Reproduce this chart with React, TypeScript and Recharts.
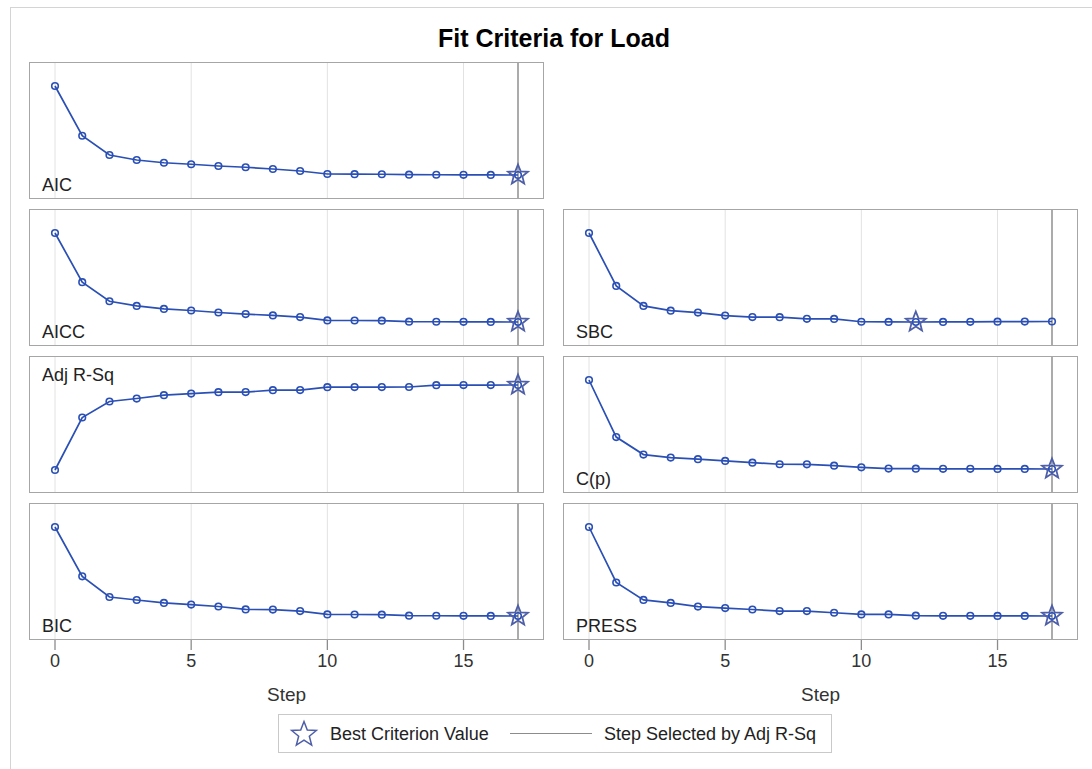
import { ComposedChart, Line, XAxis, YAxis, ReferenceLine, ReferenceDot } from 'recharts';

const steps = [0, 1, 2, 3, 4, 5, 6, 7, 8, 9, 10, 11, 12, 13, 14, 15, 16, 17];
const stepTicks = [0, 5, 10, 15];
const selectedStep = 17;

const aicValues = [756, 557, 480, 460, 449, 443, 436, 431, 424, 416, 404, 403.5, 403, 401.5, 401, 400.6, 400.3, 400];
const aiccValues = [760, 561, 484, 465, 453, 446.5, 438.5, 432, 426.5, 420, 406.5, 406, 405.5, 401.5, 401, 400.6, 400.3, 400];
const sbcValues = [810, 596, 515, 496, 488, 476, 470, 469.5, 463, 462.5, 451, 450.5, 450, 450.4, 450.8, 451.2, 451.6, 452];
const adjRsqValues = [0.61, 0.8204, 0.8844, 0.8964, 0.91, 0.9164, 0.922, 0.9222, 0.93, 0.9302, 0.942, 0.9422, 0.9424, 0.9426, 0.95, 0.9502, 0.9504, 0.9506];
const cpValues = [194.6, 81.4, 46.6, 40.6, 37.4, 34, 30.6, 27.4, 27.2, 24.6, 21.4, 18.8, 18.6, 18.4, 18.3, 18.2, 18.1, 18];
const bicValues = [781, 581, 497, 485, 473, 466.5, 458.5, 446.5, 446, 440, 426.5, 426, 425.5, 421.5, 421, 420.6, 420.3, 420];
const pressValues = [3806, 2680, 2326, 2266, 2192, 2160, 2132, 2100, 2099, 2066, 2032, 2031, 2006, 2004, 2003, 2002, 2001, 2000];

const FONT = '"Liberation Sans", Arial, sans-serif';
const BLUE = '#2a4fb5';
const STAR = '#4e5fa8';
const PLOT_W = 515;
const PLOT_H = 137;
const AXIS_H = 64;
const TICK_LEN = 10;
const TICK_GAP = 4;

function starPath(cx: number, cy: number, R: number, r: number) {
  let d = '';
  for (let i = 0; i < 10; i++) {
    const a = -Math.PI / 2 + (i * Math.PI) / 5;
    const rad = i % 2 === 0 ? R : r;
    d += (i === 0 ? 'M' : 'L') + (cx + rad * Math.cos(a)).toFixed(2) + ',' + (cy + rad * Math.sin(a)).toFixed(2);
  }
  return d + 'Z';
}

const StarShape = (props: any) => (
  <path d={starPath(props.cx, props.cy, 10.5, 4.6)} fill="none" stroke={STAR} strokeWidth={1.8} strokeLinejoin="miter" />
);

// tick mark + label drawn together
const StepTick = (props: any) => {
  const { x, y, payload } = props;
  const top = y - TICK_GAP - TICK_LEN;
  return (
    <g>
      <path d={`M${x},${top}L${x},${top + TICK_LEN}`} stroke="#8c8c8c" strokeWidth={1.3} fill="none" />
      <text x={x} y={y} dy="0.71em" textAnchor="middle" fill="#333" fontSize={18} fontFamily={FONT}>
        {payload.value}
      </text>
    </g>
  );
};

interface PanelProps {
  label: string;
  values: number[];
  best: number;
  left: number;
  top: number;
  labelAtTop?: boolean;
  showAxis?: boolean;
  pad?: { top: number; bottom: number };
}

function Panel({ label, values, best, left, top, labelAtTop, showAxis, pad }: PanelProps) {
  const data = steps.map((s, i) => ({ step: s, value: values[i] }));
  const h = PLOT_H + (showAxis ? AXIS_H : 0);
  return (
    <div style={{ position: 'absolute', left, top, width: PLOT_W, height: h }}>
      <ComposedChart width={PLOT_W} height={h} data={data} margin={{ top: 0, right: 0, bottom: 0, left: 0 }}>
        <XAxis
          type="number"
          dataKey="step"
          domain={[0, 17]}
          ticks={stepTicks}
          padding={{ left: 26, right: 26 }}
          hide={!showAxis}
          height={AXIS_H}
          axisLine={false}
          tickLine={false}
          tickSize={TICK_LEN}
          tickMargin={TICK_GAP}
          tick={<StepTick />}
          label={{ value: 'Step', position: 'insideBottom', offset: 3, fill: '#333', fontSize: 19, fontFamily: FONT }}
        />
        <YAxis hide domain={['dataMin', 'dataMax']} padding={pad || { top: 24, bottom: 24 }} />
        {stepTicks.map((t) => (
          <ReferenceLine key={t} x={t} stroke="#e2e2e2" strokeWidth={1} />
        ))}
        <ReferenceLine x={selectedStep} stroke="#8f8f8f" strokeWidth={1.5} />
        <Line
          type="linear"
          dataKey="value"
          stroke={BLUE}
          strokeWidth={1.7}
          dot={{ r: 3.3, stroke: BLUE, strokeWidth: 1.6, fill: 'none' }}
          isAnimationActive={false}
        />
        <ReferenceDot x={best} y={values[best]} shape={StarShape} />
      </ComposedChart>
      <div
        style={{
          position: 'absolute',
          left: 0,
          top: 0,
          width: PLOT_W - 2,
          height: PLOT_H - 2,
          border: '1px solid #a6a6a6',
          pointerEvents: 'none',
        }}
      />
      <div
        style={{
          position: 'absolute',
          left: 13,
          top: labelAtTop ? 10 : 114,
          fontFamily: FONT,
          fontSize: 18,
          lineHeight: '18px',
          color: '#222',
          whiteSpace: 'nowrap',
        }}
      >
        {label}
      </div>
    </div>
  );
}

export default function App() {
  const L = 29;
  const R = 563;
  return (
    <div
      style={{
        position: 'absolute',
        left: 0,
        top: 0,
        width: 1092,
        height: 769,
        overflow: 'hidden',
        background: '#fff',
        fontFamily: FONT,
      }}
    >
      <div style={{ position: 'absolute', left: 10, top: 7, width: 1200, height: 900, border: '1px solid #d4d4d4' }} />
      <div
        style={{
          position: 'absolute',
          left: 0,
          top: 26,
          width: 1108,
          textAlign: 'center',
          fontSize: 25,
          lineHeight: '25px',
          fontWeight: 'bold',
          color: '#000',
        }}
      >
        Fit Criteria for Load
      </div>

      <Panel label="AIC" values={aicValues} best={17} left={L} top={62} />
      <Panel label="AICC" values={aiccValues} best={17} left={L} top={209} />
      <Panel label="SBC" values={sbcValues} best={12} left={R} top={209} />
      <Panel label="Adj R-Sq" values={adjRsqValues} best={17} left={L} top={356} labelAtTop pad={{ top: 29, bottom: 23 }} />
      <Panel label="C(p)" values={cpValues} best={17} left={R} top={356} />
      <Panel label="BIC" values={bicValues} best={17} left={L} top={503} showAxis />
      <Panel label="PRESS" values={pressValues} best={17} left={R} top={503} showAxis />

      <div
        style={{
          position: 'absolute',
          left: 278,
          top: 714,
          width: 552,
          height: 37,
          border: '1px solid #c9c9c9',
          fontSize: 18,
          color: '#222',
        }}
      >
        <svg width={30} height={30} style={{ position: 'absolute', left: 10, top: 4 }}>
          <path d={starPath(15, 15.5, 13, 5.6)} fill="none" stroke={STAR} strokeWidth={1.5} />
        </svg>
        <div style={{ position: 'absolute', left: 51, top: 9.5, lineHeight: '18px', whiteSpace: 'nowrap' }}>Best Criterion Value</div>
        <div style={{ position: 'absolute', left: 231, top: 18, width: 82, height: 1, background: '#8c8c8c' }} />
        <div style={{ position: 'absolute', left: 325, top: 9.5, lineHeight: '18px', whiteSpace: 'nowrap' }}>Step Selected by Adj R-Sq</div>
      </div>
    </div>
  );
}
